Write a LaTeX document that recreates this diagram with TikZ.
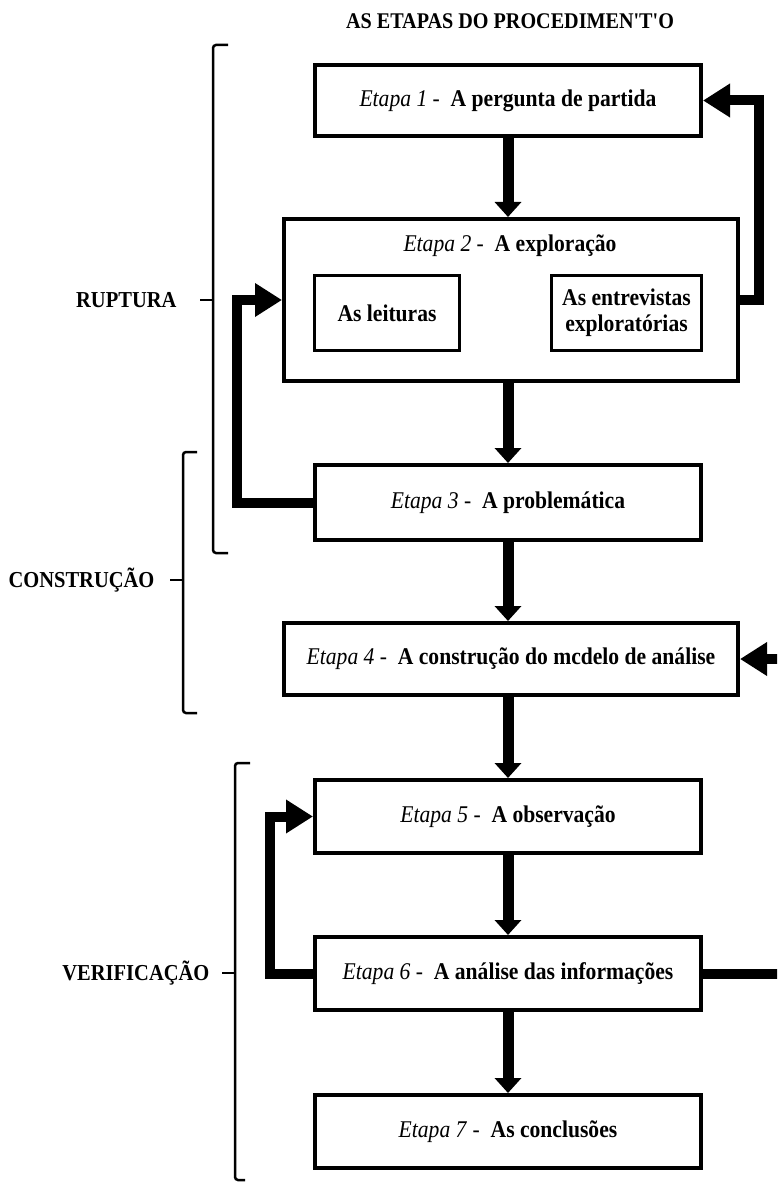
\documentclass[tikz,border=0pt]{standalone}
\usepackage{fontspec}
\setmainfont{Liberation Serif}[FakeStretch=0.9]
% same face without TeX ligatures, so that ' stays a straight quote
\newfontfamily\titlefont{Liberation Serif}[FakeStretch=0.9]
\usetikzlibrary{arrows.meta}
\newcommand{\etapa}[2]{\textit{Etapa #1} - \ \textbf{#2}}
\begin{document}
\begin{tikzpicture}[x=1pt,y=-1pt,
  txt/.style={font=\fontsize{24}{29}\selectfont},
  stage/.style={draw,line width=4pt,inner sep=0pt,txt},
  sub/.style={draw,line width=3pt,inner sep=0pt,align=center,txt},
  flow/.style={line width=11pt,-{Triangle[width=26pt,length=15pt]}},
  back/.style={line width=10pt,line join=miter,-{Triangle[width=32pt,length=27pt]}},
  brk/.style={line width=2.5pt,rounded corners=3pt},
  grp/.style={font=\fontsize{22.8}{27}\selectfont\bfseries,anchor=east}]
\clip (0,0) rectangle (777,1182);
\fill[white] (0,0) rectangle (777,1182);

% title
\node[font=\fontsize{22.4}{27}\titlefont\bfseries] (title) at (510,21) {AS ETAPAS DO PROCEDIMEN'T'O};

% stages
\node[stage,minimum width=386pt,minimum height=71pt] (b1) at (508,100.5) {\etapa{1}{A pergunta de partida}};
\node[stage,minimum width=454pt,minimum height=162pt] (b2) at (511,300) {};
\node[txt] (b2t) at (510,246) {\etapa{2}{A exploração}};
\node[sub,minimum width=145pt,minimum height=75pt] (s1) at (387,313) {\textbf{As leituras}};
\node[sub,minimum width=150pt,minimum height=75pt] (s2) at (626.5,313) {\textbf{As entrevistas}\\[-3pt]\textbf{exploratórias}};
\node[stage,minimum width=386pt,minimum height=75pt] (b3) at (508,502.5) {\etapa{3}{A problemática}};
\node[stage,minimum width=454pt,minimum height=72pt] (b4) at (511,659) {\etapa{4}{A construção do mcdelo de análise}};
\node[stage,minimum width=386pt,minimum height=73pt] (b5) at (508,816.5) {\etapa{5}{A observação}};
\node[stage,minimum width=386pt,minimum height=73pt] (b6) at (508,973.5) {\etapa{6}{A análise das informações}};
\node[stage,minimum width=386pt,minimum height=73pt] (b7) at (508,1131.5) {\etapa{7}{As conclusões}};

% main sequence
\draw[flow] (b1.south) -- (b1.south |- b2.north);
\draw[flow] (b2.south -| b3.north) -- (b3.north);
\draw[flow] (b3.south) -- (b3.south |- b4.north);
\draw[flow] (b4.south -| b5.north) -- (b5.north);
\draw[flow] (b5.south) -- (b6.north);
\draw[flow] (b6.south) -- (b7.north);

% feedback loops
\draw[back] (b2.east) -- ++(19,0) |- (b1.east);
\draw[back] (b3.west) -- ++(-76,0) |- (b2.west);
\draw[back] (b6.west) -- ++(-43,0) |- (b5.west);
\draw[back] (b6.east) -- ++(90,0) |- (b4.east);

% phase brackets
\draw[brk] (228,45) -- (213,45) -- (213,553) -- (228,553);
\draw[line width=2.5pt] (200,300) -- (213,300);
\node[grp] (rup) at (180,300) {RUPTURA};

\draw[brk] (197,452) -- (183,452) -- (183,713) -- (197,713);
\draw[line width=2.5pt] (170,580) -- (183,580);
\node[grp] (con) at (158,580) {CONSTRUÇÃO};

\draw[brk] (250,763) -- (235,763) -- (235,1180) -- (245,1180);
\draw[line width=2.5pt] (222,973) -- (235,973);
\node[grp] (ver) at (213,973) {VERIFICAÇÃO};
\end{tikzpicture}
\end{document}
